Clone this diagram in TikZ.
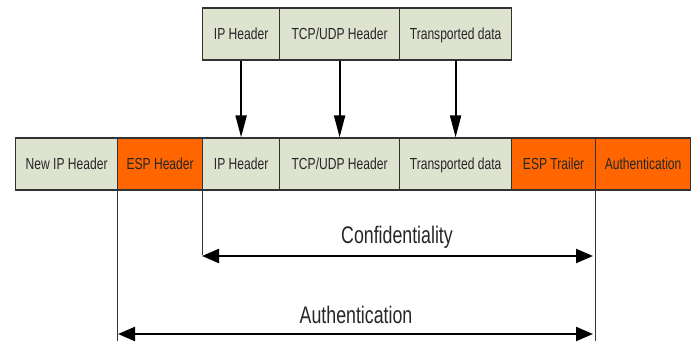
\documentclass[tikz,border=0pt]{standalone}
\usepackage{fontspec}
\setmainfont{Liberation Sans}
\newfontfamily\cellfont{Liberation Sans}[FakeStretch=0.755]
\newfontfamily\labfont{Liberation Sans}[FakeStretch=0.74]
\usetikzlibrary{arrows.meta}
\definecolor{cellgray}{RGB}{222,227,208}
\definecolor{espor}{RGB}{255,102,0}
\definecolor{edge}{RGB}{50,50,50}
\begin{document}
\begin{tikzpicture}[x=1pt,y=-1pt,
  cell/.style={draw=edge, line width=1.2pt, fill=cellgray, minimum height=52pt,
    inner sep=0pt, anchor=west, text height=11.7pt, text depth=0pt,
    font=\cellfont\fontsize{16}{19}\selectfont, text=black!85},
  esp/.style={cell, fill=espor},
  down/.style={line width=2pt, -{Triangle[length=22pt,width=11pt]}},
  span/.style={line width=2.2pt, {Triangle[length=17pt,width=14pt]}-{Triangle[length=17pt,width=14pt]}},
  guide/.style={line width=0.9pt, draw=edge},
  lab/.style={anchor=base, inner sep=0pt, font=\labfont\fontsize{24}{28}\selectfont, text=black!85}]
\useasboundingbox (0,0) rectangle (695,344);
% top row
\node[cell, minimum width=77pt]  (tip)  at (202,34) {IP Header};
\node[cell, minimum width=120pt] (ttcp) at (279,34) {TCP/UDP Header};
\node[cell, minimum width=112pt] (tdat) at (399,34) {Transported data};
% bottom row
\node[cell, minimum width=102pt] (nip)  at (15,164)  {New IP Header};
\node[esp,  minimum width=85pt]  (esph) at (117,164) {ESP Header};
\node[cell, minimum width=77pt]  (bip)  at (202,164) {IP Header};
\node[cell, minimum width=120pt] (btcp) at (279,164) {TCP/UDP Header};
\node[cell, minimum width=112pt] (bdat) at (399,164) {Transported data};
\node[esp,  minimum width=84pt]  (espt) at (511,164) {ESP Trailer};
\node[esp,  minimum width=95pt]  (auth) at (595,164) {Authentication};
% arrows down
\draw[down] (tip.south)  -- (bip.north);
\draw[down] (ttcp.south) -- (btcp.north);
\draw[down] (tdat.south) -- (bdat.north);
% guide lines
\coordinate (g1) at (117,341);
\coordinate (g2) at (202,255);
\coordinate (g3) at (595,341);
\draw[guide] (esph.south west) -- (g1);
\draw[guide] (bip.south west) -- (g2);
\draw[guide] (auth.south west) -- (g3);
% spans
\coordinate (c1) at (202,256);
\coordinate (c2) at (593,256);
\coordinate (a1) at (118,334);
\coordinate (a2) at (593,334);
\draw[span] (c1) -- (c2);
\draw[span] (a1) -- (a2);
\node[lab] (conf) at (397,244) {Confidentiality};
\node[lab] (authl) at (356,323) {Authentication};
\end{tikzpicture}
\end{document}
